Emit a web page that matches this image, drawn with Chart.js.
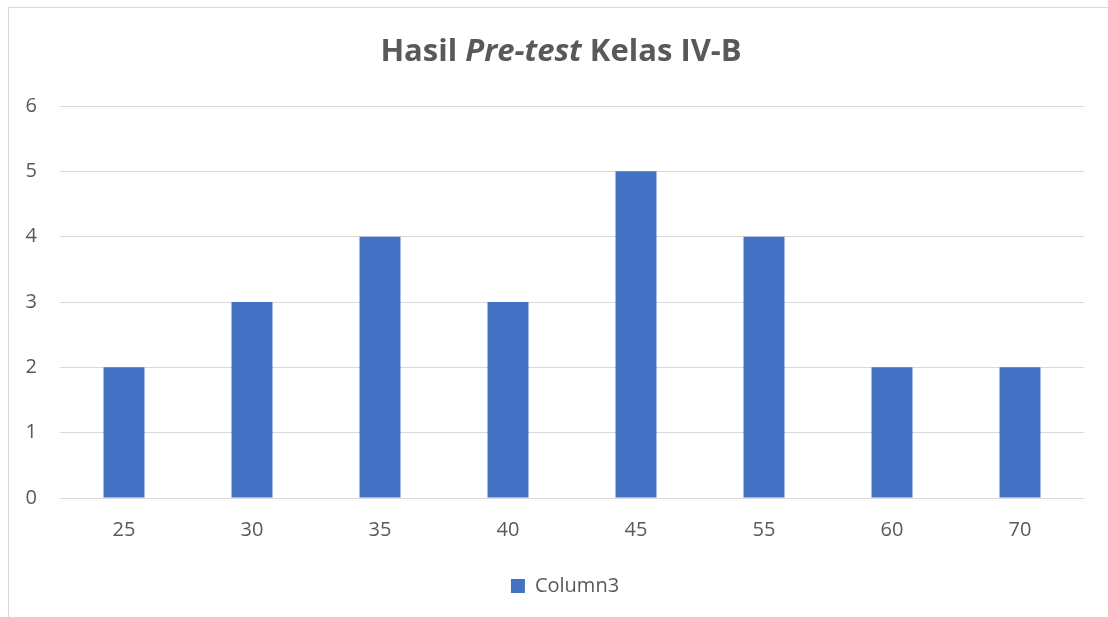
<!DOCTYPE html>
<html>
<head>
<meta charset="utf-8">
<script src="https://cdn.jsdelivr.net/npm/chart.js@4"></script>
<style>
  html, body { margin: 0; padding: 0; background: #fff; }
  #wrap { width: 1108px; height: 617px; }
</style>
</head>
<body>
<div id="wrap"><canvas id="preTestChart" width="1108" height="617"></canvas></div>
<script>
// data
const categories = ['25', '30', '35', '40', '45', '55', '60', '70'];
const column3 = [2, 3, 4, 3, 5, 4, 2, 2];
const yTicks = [0, 1, 2, 3, 4, 5, 6];
const seriesName = 'Column3';
const titleParts = [
  { text: 'Hasil ', italic: false },
  { text: 'Pre-test', italic: true },
  { text: ' Kelas IV-B', italic: false }
];

const textColor = '#595959';
const fontFamily = "'Open Sans', 'Noto Sans', sans-serif";

// title with mixed italic + the thin chart border
const decorPlugin = {
  id: 'decor',
  afterLayout(chart) {
    // legend sits a bit right of centre in the original
    chart.legend.left += 23;
    chart.legend.right += 23;
  },
  afterDraw(chart) {
    const ctx = chart.ctx;
    ctx.save();
    ctx.strokeStyle = '#d9d9d9';
    ctx.lineWidth = 1;
    ctx.beginPath();
    ctx.moveTo(8.5, 617);
    ctx.lineTo(8.5, 7.5);
    ctx.lineTo(1108, 7.5);
    ctx.stroke();

    ctx.fillStyle = textColor;
    ctx.textBaseline = 'middle';
    const fonts = titleParts.map(p => (p.italic ? 'italic ' : '') + 'bold 31px ' + fontFamily);
    let total = 0;
    titleParts.forEach((p, i) => { ctx.font = fonts[i]; total += ctx.measureText(p.text).width; });
    let x = 561 - total / 2;
    titleParts.forEach((p, i) => {
      ctx.font = fonts[i];
      ctx.fillText(p.text, x, 52);
      x += ctx.measureText(p.text).width;
    });
    ctx.restore();
  }
};

new Chart(document.getElementById('preTestChart'), {
  type: 'bar',
  data: {
    labels: categories,
    datasets: [{
      label: seriesName,
      data: column3,
      backgroundColor: '#4472C4',
      borderWidth: 0,
      categoryPercentage: 1,
      barPercentage: 0.32
    }]
  },
  options: {
    responsive: false,
    animation: false,
    layout: { padding: { top: 106, right: 24, left: 0, bottom: 11 } },
    plugins: {
      title: { display: false },
      tooltip: { enabled: false },
      legend: {
        position: 'bottom',
        labels: {
          color: textColor,
          font: { family: fontFamily, size: 20 },
          boxWidth: 14,
          boxHeight: 14,
          padding: 10
        }
      }
    },
    scales: {
      x: {
        grid: { display: false },
        border: { display: false },
        ticks: { color: textColor, font: { family: fontFamily, size: 20 }, padding: 12 },
        afterFit(s) { s.height = 68; }
      },
      y: {
        min: 0,
        max: 6,
        afterBuildTicks(s) { s.ticks = yTicks.map(v => ({ value: v })); },
        grid: { color: '#d9d9d9', lineWidth: 1, drawTicks: false },
        border: { display: false },
        ticks: { color: textColor, font: { family: fontFamily, size: 20 }, padding: 23 },
        afterFit(s) { s.width = 60; }
      }
    }
  },
  plugins: [decorPlugin]
});
</script>
</body>
</html>
